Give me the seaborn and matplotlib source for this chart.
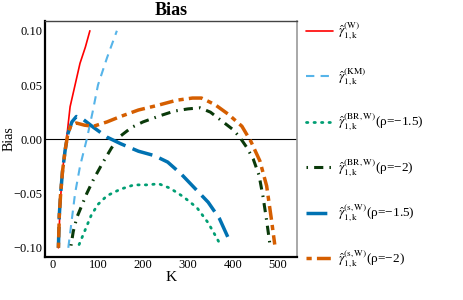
import numpy as np
import pandas as pd
import matplotlib.pyplot as plt
import seaborn as sns

# values
k_w = [12, 16, 20, 26, 30, 38, 49, 60, 72, 82]
bias_w = [-0.10, -0.06, -0.035, -0.01, 0.0, 0.03, 0.05, 0.07, 0.085, 0.10]

k_km = [34, 40, 49, 60, 75, 88, 100, 120, 142]
bias_km = [-0.10, -0.08, -0.05, -0.025, 0.0, 0.025, 0.05, 0.075, 0.10]

k_br15 = [58, 70, 85, 100, 120, 150, 180, 210, 235, 260, 290, 320, 345, 360, 372]
bias_br15 = [-0.097, -0.085, -0.07, -0.06, -0.052, -0.046, -0.042, -0.042, -0.041,
             -0.045, -0.053, -0.063, -0.077, -0.088, -0.097]

k_br2 = [40, 45, 53, 65, 75, 90, 110, 130, 150, 175, 200, 240, 270, 300, 327,
         350, 375, 400, 415, 430, 445, 458, 467, 475, 482]
bias_br2 = [-0.098, -0.085, -0.072, -0.06, -0.05, -0.037, -0.022, -0.008, 0.003,
            0.011, 0.016, 0.022, 0.026, 0.028, 0.029, 0.025, 0.017, 0.009, 0.002,
            -0.007, -0.018, -0.033, -0.053, -0.075, -0.096]

k_s15 = [12, 14, 17, 21, 27, 33, 42, 52, 65, 90, 120, 150, 190, 225, 255, 285,
         315, 345, 370, 393]
bias_s15 = [-0.10, -0.07, -0.05, -0.03, -0.01, 0.005, 0.016, 0.021, 0.019, 0.011,
            0.002, -0.004, -0.011, -0.015, -0.021, -0.032, -0.045, -0.058, -0.073,
            -0.094]

k_s2 = [12, 14, 17, 21, 27, 33, 40, 52, 70, 90, 120, 150, 190, 230, 275, 310,
        330, 360, 390, 420, 440, 460, 475, 486, 493]
bias_s2 = [-0.10, -0.07, -0.05, -0.03, -0.01, 0.005, 0.013, 0.015, 0.013, 0.012,
           0.016, 0.021, 0.027, 0.031, 0.036, 0.038, 0.038, 0.032, 0.023, 0.012,
           -0.002, -0.02, -0.043, -0.075, -0.097]

labels = [r'$\hat{\gamma}_{\mathrm{1,k}}^{\mathrm{(W)}}$',
          r'$\hat{\gamma}_{\mathrm{1,k}}^{\mathrm{(KM)}}$',
          r'$\hat{\gamma}_{\mathrm{1,k}}^{\mathrm{(BR,W)}}$(ρ=−1.5)',
          r'$\hat{\gamma}_{\mathrm{1,k}}^{\mathrm{(BR,W)}}$(ρ=−2)',
          r'$\hat{\gamma}_{\mathrm{1,k}}^{\mathrm{(s,W)}}$(ρ=−1.5)',
          r'$\hat{\gamma}_{\mathrm{1,k}}^{\mathrm{(s,W)}}$(ρ=−2)']

series = [(k_w, bias_w), (k_km, bias_km), (k_br15, bias_br15),
          (k_br2, bias_br2), (k_s15, bias_s15), (k_s2, bias_s2)]
colors = ['#FF0000', '#56B4E9', '#009E73', '#0A3A0A', '#0072B2', '#D55E00']
styles = ['-', (0, (4, 3)), (0, (0.5, 2.2)), (0, (0.5, 2, 3, 2)),
          (0, (6, 2.2)), (0, (1.5, 1.5, 4, 1.5))]
widths = [1.2, 1.5, 2.0, 2.2, 2.5, 2.5]

sns.set_style("white")
plt.rcParams['font.family'] = ['Liberation Serif', 'DejaVu Serif']
plt.rcParams['mathtext.fontset'] = 'stix'
plt.rcParams['text.color'] = 'black'
plt.rcParams['axes.labelcolor'] = 'black'
plt.rcParams['xtick.color'] = 'black'
plt.rcParams['ytick.color'] = 'black'

fig = plt.figure(figsize=(4.63, 3.0), dpi=100)
ax = fig.add_axes([0.097, 0.145, 0.544, 0.785])

for i in range(len(series)):
    df = pd.DataFrame({"K": series[i][0], "Bias": series[i][1]})
    sns.lineplot(x="K", y="Bias", data=df, ax=ax, color=colors[i],
                 linewidth=widths[i], label=labels[i])
    ax.lines[-1].set_linestyle(styles[i])
    if i == 2:
        ax.lines[-1].set_dash_capstyle('round')

ax.axhline(0, color='black', linewidth=0.8, zorder=0)

ax.set_xlim(-18, 542)
ax.set_ylim(-0.108, 0.109)
ax.set_xticks([0, 100, 200, 300, 400, 500])
ax.set_yticks([-0.10, -0.05, 0.0, 0.05, 0.10])
ax.set_yticklabels(['−0.10', '−0.05', '0.00', '0.05', '0.10'])
ax.tick_params(length=0, labelsize=9, pad=2)
ax.set_xlabel("K", fontsize=11, labelpad=0)
ax.set_ylabel("Bias", fontsize=10)
ax.yaxis.set_label_coords(-0.115, 0.5)
ax.set_title("Bias", fontsize=13, fontweight="bold", pad=4)

ax.spines['left'].set_color('black')
ax.spines['bottom'].set_color('black')
ax.spines['left'].set_linewidth(1.6)
ax.spines['bottom'].set_linewidth(1.6)
ax.spines['top'].set_color('#444444')
ax.spines['top'].set_linewidth(1.0)
ax.spines['right'].set_color('#999999')
ax.spines['right'].set_linewidth(1.2)

ax.legend(loc='center left', bbox_to_anchor=(301 / 463, 0.516),
          bbox_transform=fig.transFigure, frameon=False,
          fontsize=9.5, handlelength=2.0, handletextpad=0.38, labelspacing=1.83,
          borderaxespad=0)

plt.savefig("out.png", dpi=100)
